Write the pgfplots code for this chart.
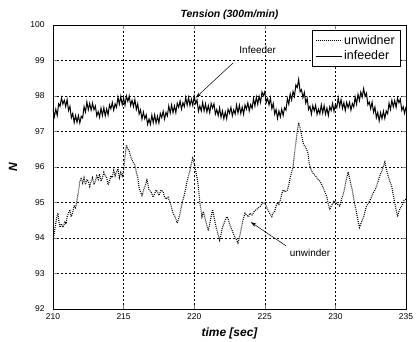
\documentclass[border=0pt]{standalone}
\usepackage{pgfplots}
\pgfplotsset{compat=1.18}
\usepackage{fontspec}
\setmainfont{Liberation Sans}
\usetikzlibrary{arrows.meta}
\begin{document}
\begin{tikzpicture}
\begin{axis}[
  at={(0,0)}, anchor=south west,
  scale only axis, width=353bp, height=284bp,
  xmin=210, xmax=235, ymin=92, ymax=100,
  xtick={210,215,...,235}, ytick={92,93,...,100},
  /pgf/number format/assume math mode=true,
  /pgf/number format/1000 sep={},
  tick label style={font=\fontsize{8.5}{10}\selectfont},
  yticklabel style={xshift=-5bp},
  xticklabel style={yshift=-1bp},
  tick align=inside, major tick length=4bp,
  axis line style={black, line width=0.5pt},
  grid=major,
  major grid style={black, line width=0.45pt, dash pattern=on 2bp off 2bp},
  title={\bfseries\itshape Tension (300m/min)},
  every axis title/.style={at={(axis description cs:0.5,1)}, anchor=center, yshift=10bp, font=\fontsize{10.5}{12}\selectfont},
  xlabel={\bfseries\itshape time [sec]},
  every axis x label/.style={at={(axis description cs:0.5,0)}, anchor=center, yshift=-24bp, font=\fontsize{12}{14}\selectfont},
  ylabel={\bfseries\itshape N},
  every axis y label/.style={at={(axis description cs:-0.113,0.5)}, anchor=center, rotate=90, font=\fontsize{12}{14}\selectfont},
  legend style={at={(rel axis cs:0.983,0.982)}, anchor=north east, draw=black, line width=0.5pt,
    font=\fontsize{12.5}{14}\selectfont, inner sep=3bp, row sep=1bp, cells={anchor=west}},
  legend image code/.code={\draw[#1] (0bp,0bp) -- (26bp,0bp);},
]
\addplot[black, line width=1.1pt, dash pattern=on 0.9bp off 1.1bp] coordinates {
(210.0,93.95)(210.08,94.1)(210.15,94.3)(210.25,94.55)(210.35,94.7)(210.42,94.45)(210.5,94.3)(210.6,94.4)(210.7,94.3)(210.85,94.45)(210.93,94.4)(211.0,94.6)(211.1,94.7)(211.2,94.8)(211.28,94.6)(211.35,94.65)(211.5,94.9)(211.6,94.85)(211.7,95.07)(211.8,95.3)(211.9,95.6)(212.0,95.7)(212.1,95.55)(212.2,95.7)(212.3,95.5)(212.4,95.65)(212.5,95.6)(212.6,95.45)(212.7,95.6)(212.8,95.7)(212.9,95.5)(213.0,95.6)(213.1,95.75)(213.2,95.65)(213.3,95.8)(213.4,95.6)(213.5,95.7)(213.6,95.85)(213.7,95.75)(213.8,95.7)(213.9,95.5)(214.0,95.6)(214.1,95.75)(214.2,95.7)(214.3,95.9)(214.4,95.75)(214.5,95.86)(214.6,95.95)(214.7,95.7)(214.8,95.85)(214.9,95.75)(215.0,95.9)(215.1,96.3)(215.2,96.62)(215.3,96.5)(215.4,96.45)(215.5,96.3)(215.6,96.2)(215.7,96.1)(215.8,96.06)(215.9,95.85)(216.0,95.7)(216.1,95.4)(216.15,95.35)(216.3,95.2)(216.38,95.3)(216.45,95.4)(216.55,95.5)(216.65,95.63)(216.75,95.45)(216.8,95.35)(216.95,95.3)(217.1,95.15)(217.2,95.25)(217.3,95.35)(217.4,95.3)(217.5,95.2)(217.65,95.35)(217.8,95.3)(217.9,95.15)(218.0,95.1)(218.15,95.15)(218.3,95.0)(218.4,94.85)(218.5,94.7)(218.65,94.6)(218.8,94.42)(218.9,94.55)(219.0,94.7)(219.1,94.9)(219.2,95.07)(219.35,95.3)(219.5,95.6)(219.7,95.9)(219.8,96.1)(219.9,96.25)(220.0,96.1)(220.1,95.9)(220.2,95.7)(220.3,95.44)(220.4,95.0)(220.55,94.6)(220.65,94.75)(220.8,94.5)(220.9,94.35)(221.0,94.2)(221.1,94.4)(221.15,94.5)(221.3,94.8)(221.4,94.6)(221.5,94.4)(221.65,94.15)(221.8,93.94)(221.9,94.1)(222.0,94.3)(222.15,94.45)(222.3,94.6)(222.4,94.55)(222.5,94.4)(222.6,94.3)(222.7,94.2)(222.8,94.1)(222.9,94.0)(223.0,93.95)(223.1,93.86)(223.2,94.0)(223.3,94.2)(223.45,94.5)(223.6,94.7)(223.7,94.65)(223.85,94.6)(223.95,94.7)(224.1,94.65)(224.25,94.75)(224.4,94.8)(224.55,94.85)(224.7,94.9)(224.85,95.0)(225.0,94.98)(225.1,94.9)(225.2,94.8)(225.35,94.7)(225.5,94.6)(225.6,94.7)(225.7,94.75)(225.8,94.9)(225.9,95.0)(226.0,94.95)(226.1,95.07)(226.2,95.25)(226.3,95.35)(226.45,95.3)(226.6,95.35)(226.7,95.5)(226.8,95.7)(226.9,95.85)(227.0,96.0)(227.1,96.35)(227.2,96.7)(227.3,97.0)(227.4,97.25)(227.5,97.1)(227.6,96.9)(227.7,96.7)(227.8,96.6)(227.9,96.55)(228.05,96.4)(228.15,96.1)(228.3,95.9)(228.45,95.8)(228.6,95.75)(228.75,95.65)(228.9,95.6)(229.05,95.5)(229.2,95.35)(229.3,95.25)(229.4,95.15)(229.5,94.95)(229.6,94.8)(229.7,94.9)(229.8,94.95)(229.9,95.05)(230.0,95.0)(230.15,94.95)(230.3,94.9)(230.45,95.1)(230.6,95.3)(230.75,95.6)(230.9,95.86)(231.0,95.7)(231.1,95.5)(231.2,95.35)(231.3,95.1)(231.45,94.8)(231.55,94.6)(231.7,94.3)(231.8,94.4)(231.9,94.5)(232.0,94.6)(232.1,94.75)(232.2,94.9)(232.35,95.0)(232.5,95.1)(232.65,95.25)(232.8,95.35)(232.95,95.5)(233.1,95.7)(233.3,95.9)(233.5,96.14)(233.6,95.95)(233.7,95.8)(233.85,95.6)(234.0,95.44)(234.1,95.2)(234.2,95.0)(234.3,94.8)(234.4,94.6)(234.5,94.75)(234.6,94.85)(234.7,94.9)(234.85,95.05)(235.0,95.1)
};
\addlegendentry{unwidner}
\addplot[black, line width=1pt] coordinates {
(210.0,97.63)(210.1,97.42)(210.2,97.63)(210.3,97.45)(210.4,97.78)(210.5,97.71)(210.6,97.95)(210.7,97.77)(210.8,97.88)(210.9,97.70)
(211.0,97.90)(211.1,97.59)(211.2,97.71)(211.3,97.39)(211.4,97.51)(211.5,97.25)(211.6,97.45)(211.7,97.26)(211.8,97.45)(211.9,97.24)
(212.0,97.43)(212.1,97.38)(212.2,97.70)(212.3,97.55)(212.4,97.83)(212.5,97.61)(212.6,97.79)(212.7,97.60)(212.8,97.80)(212.9,97.61)
(213.0,97.72)(213.1,97.44)(213.2,97.56)(213.3,97.40)(213.4,97.66)(213.5,97.45)(213.6,97.67)(213.7,97.44)(213.8,97.64)(213.9,97.47)
(214.0,97.75)(214.1,97.64)(214.2,97.82)(214.3,97.60)(214.4,97.78)(214.5,97.68)(214.6,97.97)(214.7,97.77)(214.8,97.99)(214.9,97.76)
(215.0,97.94)(215.1,97.74)(215.2,98.00)(215.3,97.85)(215.4,98.00)(215.5,97.73)(215.6,97.88)(215.7,97.70)(215.8,97.90)(215.9,97.62)
(216.0,97.78)(216.1,97.49)(216.2,97.61)(216.3,97.35)(216.4,97.55)(216.5,97.36)(216.6,97.47)(216.7,97.20)(216.8,97.35)(216.9,97.20)
(217.0,97.46)(217.1,97.25)(217.2,97.47)(217.3,97.24)(217.4,97.43)(217.5,97.24)(217.6,97.51)(217.7,97.39)(217.8,97.57)(217.9,97.35)
(218.0,97.54)(218.1,97.44)(218.2,97.72)(218.3,97.52)(218.4,97.75)(218.5,97.53)(218.6,97.72)(218.7,97.53)(218.8,97.80)(218.9,97.68)
(219.0,97.86)(219.1,97.63)(219.2,97.81)(219.3,97.70)(219.4,97.96)(219.5,97.74)(219.6,97.96)(219.7,97.73)(219.8,97.91)(219.9,97.73)
(220.0,98.00)(220.1,97.79)(220.2,97.89)(220.3,97.57)(220.4,97.72)(220.5,97.58)(220.6,97.82)(220.7,97.58)(220.8,97.78)(220.9,97.55)
(221.0,97.73)(221.1,97.53)(221.2,97.79)(221.3,97.66)(221.4,97.78)(221.5,97.49)(221.6,97.62)(221.7,97.45)(221.8,97.67)(221.9,97.40)
(222.0,97.58)(222.1,97.36)(222.2,97.55)(222.3,97.36)(222.4,97.63)(222.5,97.51)(222.6,97.68)(222.7,97.44)(222.8,97.61)(222.9,97.49)
(223.0,97.75)(223.1,97.52)(223.2,97.74)(223.3,97.51)(223.4,97.69)(223.5,97.49)(223.6,97.75)(223.7,97.63)(223.8,97.81)(223.9,97.58)
(224.0,97.76)(224.1,97.65)(224.2,97.93)(224.3,97.72)(224.4,97.97)(224.5,97.77)(224.6,97.99)(224.7,97.82)(224.8,98.11)(224.9,98.01)
(225.0,98.12)(225.1,97.82)(225.2,97.93)(225.3,97.75)(225.4,97.94)(225.5,97.64)(225.6,97.79)(225.7,97.49)(225.8,97.62)(225.9,97.37)
(226.0,97.58)(226.1,97.41)(226.2,97.63)(226.3,97.45)(226.4,97.67)(226.5,97.60)(226.6,97.93)(226.7,97.77)(226.8,98.06)(226.9,97.89)
(227.0,98.13)(227.1,97.99)(227.2,98.31)(227.3,98.24)(227.4,98.47)(227.5,98.12)(227.6,98.18)(227.7,97.95)(227.8,98.10)(227.9,97.80)
(228.0,97.93)(228.1,97.62)(228.2,97.71)(228.3,97.49)(228.4,97.73)(228.5,97.58)(228.6,97.74)(228.7,97.48)(228.8,97.63)(228.9,97.50)
(229.0,97.75)(229.1,97.52)(229.2,97.73)(229.3,97.49)(229.4,97.66)(229.5,97.45)(229.6,97.70)(229.7,97.59)(229.8,97.79)(229.9,97.57)
(230.0,97.76)(230.1,97.67)(230.2,97.95)(230.3,97.71)(230.4,97.90)(230.5,97.65)(230.6,97.81)(230.7,97.59)(230.8,97.82)(230.9,97.67)
(231.0,97.82)(231.1,97.60)(231.2,97.79)(231.3,97.69)(231.4,97.97)(231.5,97.77)(231.6,98.05)(231.7,97.87)(231.8,98.11)(231.9,97.97)
(232.0,98.21)(232.1,97.99)(232.2,98.08)(232.3,97.75)(232.4,97.83)(232.5,97.64)(232.6,97.83)(232.7,97.54)(232.8,97.69)(232.9,97.39)
(233.0,97.54)(233.1,97.30)(233.2,97.53)(233.3,97.36)(233.4,97.57)(233.5,97.37)(233.6,97.58)(233.7,97.50)(233.8,97.80)(233.9,97.62)
(234.0,97.88)(234.1,97.69)(234.2,97.87)(234.3,97.68)(234.4,97.94)(234.5,97.81)(234.6,97.91)(234.7,97.60)(234.8,97.70)(234.9,97.51)
(235.0,97.70)
};
\addlegendentry{infeeder}
\draw[black, line width=0.5pt, -{Stealth[length=6bp,width=3.5bp]}] (axis cs:222.75,98.93) -- (axis cs:220.1,97.95);
\node[font=\fontsize{10}{12}\selectfont] at (axis cs:224.5,99.3) {Infeeder};
\draw[black, line width=0.5pt, -{Stealth[length=6bp,width=3.5bp]}] (axis cs:226.5,93.78) -- (axis cs:224.0,94.45);
\node[font=\fontsize{10}{12}\selectfont] at (axis cs:228.2,93.58) {unwinder};
\end{axis}
\pgfresetboundingbox
\useasboundingbox (-53bp,-33bp) rectangle (365bp,309bp);
\end{tikzpicture}
\end{document}
